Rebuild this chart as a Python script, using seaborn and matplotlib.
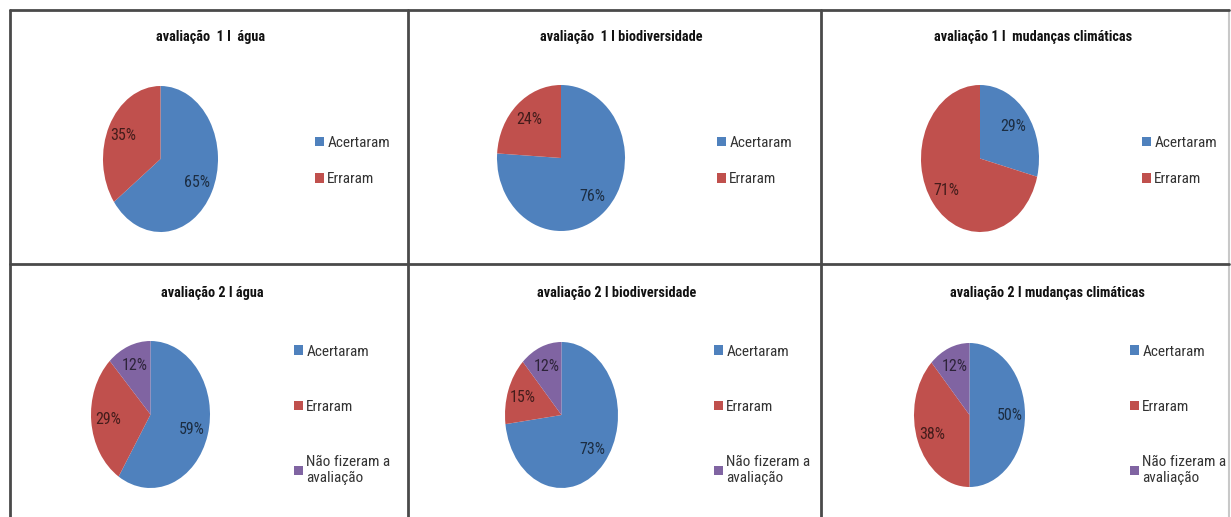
import numpy as np
import matplotlib
matplotlib.use("Agg")
import matplotlib.pyplot as plt
from matplotlib import font_manager
from matplotlib.lines import Line2D
from matplotlib.patches import Patch
import seaborn as sns

# data
categories_1 = ["Acertaram", "Erraram"]
categories_2 = ["Acertaram", "Erraram", "Não fizeram a\navaliação"]
titles = [
    "avaliação  1 I  água",
    "avaliação  1 I biodiversidade",
    "avaliação 1 I  mudanças climáticas",
    "avaliação 2 I água",
    "avaliação 2 I biodiversidade",
    "avaliação 2 I mudanças climáticas",
]
agua_1 = [65, 35]
biodiv_1 = [76, 24]
clima_1 = [29, 71]
agua_2 = [59, 29, 12]
biodiv_2 = [73, 15, 12]
clima_2 = [50, 38, 12]

sns.set_theme(style="white")
palette = sns.color_palette(["#4F81BD", "#C0504D", "#8064A2"])

installed = {f.name for f in font_manager.fontManager.ttflist}
family = next(f for f in ["Liberation Sans Narrow", "Roboto Condensed", "Open Sans Condensed",
                          "Lato", "DejaVu Sans"] if f in installed)
plt.rcParams["font.family"] = [family, "DejaVu Sans"]

W, H = 1231, 517
fig = plt.figure(figsize=(W / 100, H / 100), dpi=100)
fig.patch.set_facecolor("white")


def fx(px):
    return px / W


def fy(py):
    return 1 - py / H


# layout in pixels: pie box (x0, x1, y0, y1), title centre, legend anchor + spacing
panels = [
    dict(vals=agua_1, cats=categories_1, pie=(103, 218, 86, 232), title=(211, 37), leg=(315, 161, 1.45)),
    dict(vals=biodiv_1, cats=categories_1, pie=(497, 625, 85, 231), title=(621, 37), leg=(717, 161, 1.45)),
    dict(vals=clima_1, cats=categories_1, pie=(921, 1039, 85, 232), title=(1033, 37), leg=(1142, 161, 1.45)),
    dict(vals=agua_2, cats=categories_2, pie=(91, 210, 341, 488), title=(212, 293), leg=(294, 415, 2.7)),
    dict(vals=biodiv_2, cats=categories_2, pie=(505, 618, 342, 488), title=(617, 293), leg=(714, 415, 2.7)),
    dict(vals=clima_2, cats=categories_2, pie=(914, 1025, 343, 487), title=(1047, 293), leg=(1130, 415, 2.7)),
]

for p, title in zip(panels, titles):
    x0, x1, y0, y1 = p["pie"]
    ax = fig.add_axes([fx(x0), fy(y1), (x1 - x0) / W, (y1 - y0) / H])
    cols = palette[:len(p["vals"])]
    wedges, texts, autotexts = ax.pie(
        p["vals"], colors=cols, startangle=90, counterclock=False,
        autopct="%.0f%%", pctdistance=0.72, radius=1,
        wedgeprops=dict(linewidth=0),
        textprops=dict(fontsize=11.5),
    )
    for t, c in zip(autotexts, cols):
        t.set_color(tuple(np.array(c) * 0.35))
    ax.set_aspect("auto")
    ax.set_xlim(-1, 1)
    ax.set_ylim(-1, 1)
    ax.axis("off")

    tx, ty = p["title"]
    fig.text(fx(tx), fy(ty), title, ha="center", va="center",
             fontsize=10.3, fontweight="bold", color="#111111")

    lx, ly, spacing = p["leg"]
    handles = [Patch(facecolor=c, edgecolor="none") for c in cols]
    fig.legend(handles, p["cats"], loc="center left",
               bbox_to_anchor=(fx(lx), fy(ly)), bbox_transform=fig.transFigure,
               frameon=False, fontsize=11, handlelength=0.6, handleheight=0.6,
               handletextpad=0.2, labelspacing=spacing, borderpad=0,
               borderaxespad=0, labelcolor="#333333")

# panel borders
frame_col = "#4a4a4a"
for xv in [10, 408, 821]:
    fig.add_artist(Line2D([fx(xv)] * 2, [fy(10), fy(H)], color=frame_col, lw=2))
fig.add_artist(Line2D([fx(1229)] * 2, [fy(10), fy(H)], color="#c8c8c8", lw=1.5))
for yv in [10, 264]:
    fig.add_artist(Line2D([fx(10), fx(1229)], [fy(yv)] * 2, color=frame_col, lw=2))

fig.savefig("out.png", dpi=100, facecolor="white")
